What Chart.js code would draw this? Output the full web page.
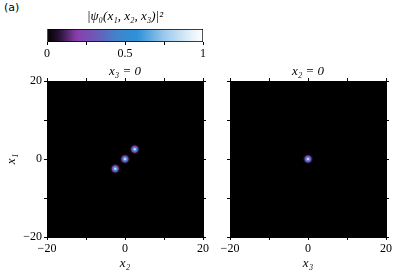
<!DOCTYPE html>
<html>
<head>
<meta charset="utf-8">
<script src="https://cdn.jsdelivr.net/npm/chart.js@4/dist/chart.umd.min.js"></script>
<style>
  body { margin:0; background:#fff; width:407px; height:278px; position:relative; overflow:hidden; }
  canvas { position:absolute; }
  #tag { position:absolute; left:4px; top:1px; font:11px "DejaVu Sans", sans-serif; color:#000; }
</style>
</head>
<body>
<div id="tag">(a)</div>
<canvas id="cbar" width="215" height="62" style="left:0;top:0"></canvas>
<canvas id="sliceA" width="215" height="216" style="left:0;top:62px"></canvas>
<canvas id="sliceB" width="192" height="216" style="left:215px;top:62px"></canvas>
<script>
// ============ DATA ============
// left panel (x3 = 0): blob centres, x2 horizontal, x1 vertical
const sliceAx2 = [-2.5, 0, 2.5];
const sliceAx1 = [-2.5, 0, 2.5];
const sliceAPeak = [0.88, 0.88, 0.88];
// right panel (x2 = 0): x3 horizontal, x1 vertical
const sliceBx3 = [0];
const sliceBx1 = [0];
const sliceBPeak = [0.88];
const blobSigma = 0.46;

const axisMin = -20, axisMax = 20, axisStep = 10;
const axisLabels = {'-20':'\u221220', '0':'0', '20':'20'};
const cbarTicks = [0, 0.25, 0.5, 0.75, 1];
const cbarLabels = ['0', '', '0.5', '', '1'];

// colormap (black -> purple -> blue -> white)
const cmapStops = [
  [0, [0,0,0]], [0.08, [42,18,56]], [0.19, [138,63,174]], [0.32, [107,92,184]],
  [0.45, [63,133,204]], [0.58, [46,145,214]], [0.75, [154,200,236]], [0.9, [219,236,248]], [1, [255,255,255]]
];
function cmap(v) {
  v = Math.max(0, Math.min(1, v));
  for (let i=1;i<cmapStops.length;i++) {
    const [t1,c1] = cmapStops[i-1], [t2,c2] = cmapStops[i];
    if (v <= t2) {
      const f = (v-t1)/(t2-t1);
      return 'rgb(' + c1.map((c,k)=>Math.round(c+(c2[k]-c)*f)).join(',') + ')';
    }
  }
  return 'rgb(255,255,255)';
}

const serif = "'Liberation Serif', serif";
const tickFont = { family:serif, size:12, weight:'normal' };
const mathFont = { family:serif, size:13, style:'italic', weight:'normal' };

const plotBg = {
  id:'plotBg',
  beforeDraw(chart) {
    const {ctx, chartArea:a} = chart;
    ctx.save(); ctx.fillStyle = '#000'; ctx.fillRect(a.left, a.top, a.width, a.height); ctx.restore();
  }
};

function frameAxis(pos, size, labels, title, pad) {
  return {
    type:'linear', position:pos, min:axisMin, max:axisMax,
    afterFit: s => { if (s.isHorizontal()) s.height = size; else s.width = size; },
    ticks: { stepSize:axisStep, autoSkip:false, maxRotation:0, color:'#000', font:tickFont, padding:2,
             callback: v => labels ? (axisLabels[String(v)] || '') : '' },
    grid: { drawOnChartArea:false, drawTicks:true, tickLength:3, tickColor:'#000', tickWidth:1 },
    border: { display:true, color:'#000', width:1 },
    title: title ? { display:true, text:title, color:'#000', font:mathFont, padding:pad } : { display:false }
  };
}

function blobRadius(c) {
  const xs = c.chart.scales.x;
  if (!xs) return 0;
  const r = 3 * Math.abs(xs.getPixelForValue(blobSigma) - xs.getPixelForValue(0));
  return isFinite(r) ? r : 0;
}
function blobFill(peaks) {
  return c => {
    if (!c.parsed) return '#000';
    const chart = c.chart;
    if (!chart.scales.x || !chart.scales.y) return '#000';
    const px = chart.scales.x.getPixelForValue(c.parsed.x), py = chart.scales.y.getPixelForValue(c.parsed.y);
    const R = blobRadius(c);
    if (!isFinite(px) || !isFinite(py) || !(R > 0)) return '#000';
    const g = chart.ctx.createRadialGradient(px, py, 0, px, py, R);
    const peak = peaks[c.dataIndex];
    for (let i=0;i<=12;i++) { const t = i/12; g.addColorStop(t, cmap(peak*Math.exp(-(3*t)*(3*t)/2))); }
    return g;
  };
}

function slice(id, xs, ys, peaks, cfg) {
  new Chart(document.getElementById(id), {
    type:'scatter',
    data:{ datasets:[{ data:xs.map((x,i)=>({x:x, y:ys[i]})), pointRadius:blobRadius, pointHoverRadius:blobRadius,
                       backgroundColor:blobFill(peaks), borderWidth:0 }] },
    options:{
      responsive:false, animation:false, events:[],
      layout:{ padding:0 },
      plugins:{ legend:{display:false}, tooltip:{enabled:false} },
      scales: cfg
    },
    plugins:[plotBg]
  });
}

slice('sliceA', sliceAx2, sliceAx1, sliceAPeak, {
  x:  frameAxis('bottom', 41, true, 'x\u2082', {bottom:7}),
  x2: frameAxis('top', 19, false, 'x\u2083 = 0', {top:2}),
  y:  frameAxis('left', 47, true, 'x\u2081', {top:4}),
  y2: frameAxis('right', 12, false, null)
});
slice('sliceB', sliceBx3, sliceBx1, sliceBPeak, {
  x:  frameAxis('bottom', 41, true, 'x\u2083', {bottom:7}),
  x2: frameAxis('top', 19, false, 'x\u2082 = 0', {top:2}),
  y:  frameAxis('left', 15, false, null),
  y2: frameAxis('right', 21, false, null)
});

// ============ COLORBAR ============
new Chart(document.getElementById('cbar'), {
  type:'bar',
  data:{ labels:[''], datasets:[{
    data:[[cbarTicks[0], cbarTicks[cbarTicks.length-1]]],
    backgroundColor: c => {
      const a = c.chart.chartArea; if (!a) return '#000';
      const g = c.chart.ctx.createLinearGradient(a.left, 0, a.right, 0);
      for (let i=0;i<=40;i++) g.addColorStop(i/40, cmap(i/40));
      return g;
    },
    borderColor:'#000', borderWidth:1, borderSkipped:false, barPercentage:1, categoryPercentage:1
  }]},
  options:{
    indexAxis:'y', responsive:false, animation:false, events:[],
    layout:{ padding:{left:47, right:12, top:0, bottom:0} },
    plugins:{ legend:{display:false}, tooltip:{enabled:false},
      title:{ display:true, text:'|\u03c8\u2080(x\u2081, x\u2082, x\u2083)|\u00b2', color:'#000', font:mathFont, padding:{top:9, bottom:4.4} } },
    scales:{
      y:{ display:false },
      x:{ type:'linear', min:0, max:1, afterFit: s => { s.height = 20; },
          afterBuildTicks: s => { s.ticks = cbarTicks.map(v=>({value:v})); },
          ticks:{ color:'#000', font:tickFont, padding:2, maxRotation:0, autoSkip:false,
                  callback:(v,i)=>cbarLabels[i] },
          grid:{ drawOnChartArea:false, tickLength:3, tickColor:'#000' },
          border:{ display:false } }
    }
  }
});
</script>
</body>
</html>
